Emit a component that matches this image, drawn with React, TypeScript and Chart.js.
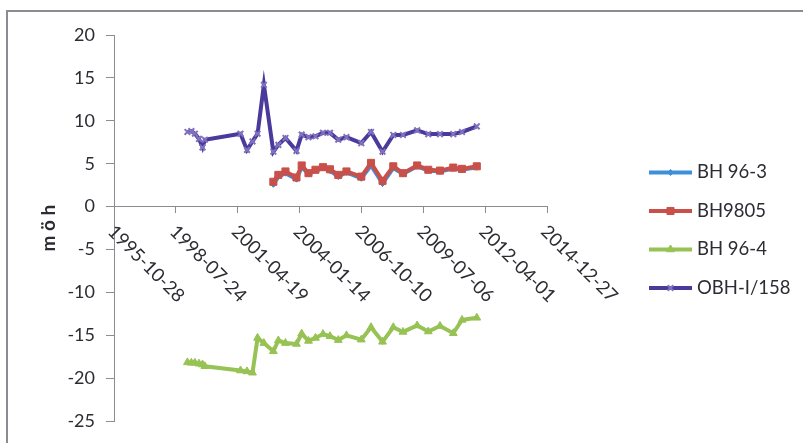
import React, { useEffect, useRef } from 'react';
import { Chart, registerables } from 'chart.js';
import { drawPoint } from 'chart.js/helpers';

Chart.register(...registerables);

// Date axis: first and last category label, step between labels in days
const axisStart = '1995-10-28';
const axisEnd = '2014-12-27';
const labelStepDays = 1000;

// Level axis (m ö h)
const yMin = -25;
const yMax = 20;
const yStep = 5;
const yTitle = 'm ö h';

// Measurement dates shared by all wells
const measureDates = [
  '1999-01-27', '1999-04-01', '1999-05-28', '1999-08-02', '1999-09-28', '1999-11-05',
  '2001-06-03', '2001-09-16', '2001-12-14', '2002-03-06', '2002-06-16', '2002-11-16',
  '2003-02-05', '2003-05-31', '2003-11-25', '2004-02-17', '2004-06-06', '2004-09-27',
  '2005-01-27', '2005-05-20', '2005-10-01', '2006-02-10', '2006-10-08', '2007-03-14',
  '2007-09-16', '2008-03-08', '2008-08-12', '2009-03-29', '2009-09-25', '2010-04-02',
  '2010-11-03', '2011-03-24', '2011-11-18',
];

const bh963 = [
  null, null, null, null, null, null,
  null, null, null, null, null, 2.6,
  3.5, 3.9, 3.2, 4.6, 3.8, 4.2,
  4.5, 4.2, 3.5, 4.0, 3.3, 4.8,
  2.7, 4.5, 3.8, 4.7, 4.2, 4.1,
  4.45, 4.3, 4.6,
];

const bh9805 = [
  null, null, null, null, null, null,
  null, null, null, null, null, 2.9,
  3.7, 4.1, 3.4, 4.8, 3.9, 4.3,
  4.6, 4.35, 3.7, 4.1, 3.5, 5.1,
  3.0, 4.7, 3.9, 4.8, 4.3, 4.2,
  4.55, 4.4, 4.7,
];

const bh964 = [
  -18.15, -18.2, -18.2, -18.3, -18.4, -18.6,
  -19.1, -19.2, -19.35, -15.3, -15.9, -16.85,
  -15.6, -15.9, -16.0, -14.8, -15.65, -15.3,
  -14.85, -15.1, -15.55, -15.0, -15.5, -14.05,
  -15.75, -14.05, -14.6, -13.85, -14.55, -13.9,
  -14.75, -13.2, -12.95,
];

const obh158 = [
  8.7, 8.8, 8.5, 7.9, 6.9, 7.8,
  8.5, 6.6, 7.6, 8.5, 14.2, 6.4,
  7.2, 8.0, 6.5, 8.4, 8.1, 8.2,
  8.6, 8.6, 7.8, 8.1, 7.4, 8.7,
  6.4, 8.35, 8.35, 8.9, 8.45, 8.45,
  8.45, 8.7, 9.35,
];

const seriesNames = ['BH 96-3', 'BH9805', 'BH 96-4', 'OBH-I/158'];

const FONT = 'Lato, "Open Sans", sans-serif';
const TEXT = '#2c2c33';
const AXIS = '#8a8c92';
const DAY_MS = 86400000;

const startMs = Date.parse(axisStart + 'T00:00:00Z');
const endMs = Date.parse(axisEnd + 'T00:00:00Z');
const toDay = (d: string) => (Date.parse(d + 'T00:00:00Z') - startMs) / DAY_MS;
const fromDay = (v: number) => new Date(startMs + v * DAY_MS).toISOString().slice(0, 10);

const styles = [
  { line: '#3d8fda', fill: '#3d8fda', point: 'rectRot', radius: 3, pw: 1 },
  { line: '#c9504a', fill: '#c9504a', point: 'rect', radius: 5, pw: 1 },
  { line: '#97c254', fill: '#97c254', point: 'triangle', radius: 4.5, pw: 1 },
  { line: '#4a3a9b', fill: '#8271bf', point: 'crossRot', radius: 4, pw: 2 },
];

const decor = {
  id: 'decor',
  beforeDraw(chart: any) {
    const { ctx, width, height } = chart;
    ctx.save();
    ctx.fillStyle = '#ffffff';
    ctx.fillRect(0, 0, width, height);
    ctx.strokeStyle = AXIS;
    ctx.lineWidth = 2;
    ctx.strokeRect(7, 11, width + 40, height + 40);
    ctx.restore();
  },
  afterDraw(chart: any) {
    const { ctx } = chart;
    const xs = chart.scales.x;
    const ys = chart.scales.y;
    const y0 = ys.getPixelForValue(0);
    ctx.save();
    ctx.fillStyle = TEXT;
    ctx.font = `18.5px ${FONT}`;
    ctx.textAlign = 'left';
    ctx.textBaseline = 'middle';
    // slanted date labels hanging from the zero line
    xs.ticks.forEach((t: any) => {
      const px = xs.getPixelForValue(t.value);
      ctx.save();
      ctx.translate(px - 3, y0 + 22);
      ctx.rotate(Math.PI / 4);
      ctx.fillText(fromDay(t.value), 0, 0);
      ctx.restore();
    });
    // legend on the right
    chart.data.datasets.forEach((ds: any, i: number) => {
      const st = styles[i];
      const cy = 172.5 + i * 38.5;
      ctx.strokeStyle = st.line;
      ctx.lineWidth = 4;
      ctx.lineCap = 'butt';
      ctx.beginPath();
      ctx.moveTo(649, cy);
      ctx.lineTo(692, cy);
      ctx.stroke();
      ctx.fillStyle = st.fill;
      ctx.strokeStyle = st.fill;
      ctx.lineWidth = st.pw;
      drawPoint(ctx, { pointStyle: st.point, radius: st.radius, rotation: 0, borderWidth: st.pw }, 670.5, cy);
      ctx.fillStyle = TEXT;
      ctx.fillText(ds.label, 697, cy);
    });
    ctx.restore();
  },
};

export default function App() {
  const ref = useRef<HTMLCanvasElement | null>(null);

  useEffect(() => {
    if (!ref.current) return;
    const values = [bh963, bh9805, bh964, obh158];
    const datasets = values.map((vals, i) => ({
      label: seriesNames[i],
      data: measureDates.map((d, j) => ({ x: toDay(d), y: vals[j] })),
      borderColor: styles[i].line,
      backgroundColor: styles[i].fill,
      borderWidth: 4,
      tension: 0,
      pointStyle: styles[i].point,
      pointRadius: styles[i].radius,
      pointBackgroundColor: styles[i].fill,
      pointBorderColor: styles[i].fill,
      pointBorderWidth: styles[i].pw,
      order: 4 - i,
    }));

    const chart = new Chart(ref.current, {
      type: 'line',
      data: { datasets },
      plugins: [decor],
      options: {
        responsive: false,
        animation: false,
        layout: { padding: { left: 0, right: 256, top: 35, bottom: 21 } },
        plugins: { legend: { display: false }, tooltip: { enabled: false } },
        scales: {
          x: {
            type: 'linear',
            min: 0,
            max: (endMs - startMs) / DAY_MS,
            position: { y: 0 },
            ticks: { display: false, stepSize: labelStepDays },
            grid: { drawOnChartArea: false, drawTicks: true, tickLength: 6, color: AXIS },
            border: { display: true, color: AXIS, width: 1 },
            afterFit: (s: any) => { s.height = 0; },
          },
          y: {
            min: yMin,
            max: yMax,
            ticks: { stepSize: yStep, color: TEXT, font: { family: FONT, size: 18 }, padding: 11 },
            grid: { drawOnChartArea: false, drawTicks: true, tickLength: 8, color: AXIS },
            border: { display: true, color: AXIS, width: 1 },
            title: {
              display: true,
              text: yTitle,
              color: TEXT,
              font: { family: FONT, size: 19, weight: 'bold' },
              padding: { top: 37, bottom: 0 },
            },
            afterFit: (s: any) => { s.width = 114; },
          },
        },
      } as any,
    });
    return () => chart.destroy();
  }, []);

  return (
    <div style={{ position: 'fixed', left: 0, top: 0, width: 803, height: 443, background: '#fff' }}>
      <canvas ref={ref} width={803} height={443} />
    </div>
  );
}
